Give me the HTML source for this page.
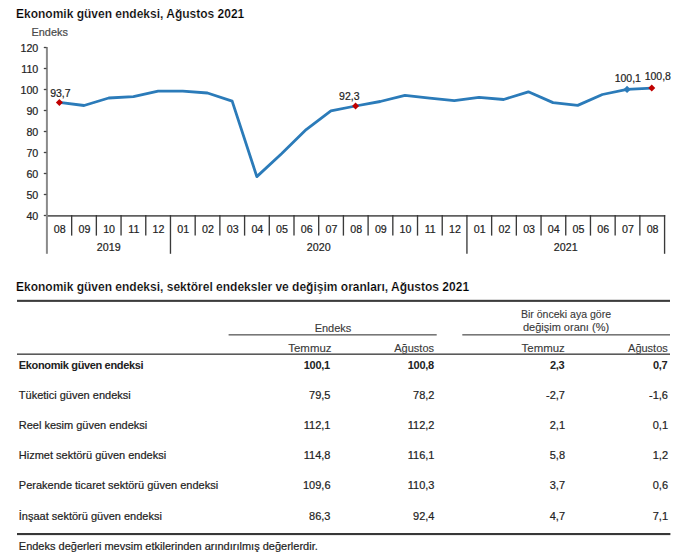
<!DOCTYPE html>
<html><head><meta charset="utf-8"><style>
html,body{margin:0;padding:0;background:#fff}
body{width:698px;height:560px;position:relative;overflow:hidden;font-family:"Liberation Sans",sans-serif}
svg text{font-family:"Liberation Sans",sans-serif;stroke:#222;stroke-width:0.2px}
svg text[font-weight="bold"]{stroke:none}
</style></head><body>
<svg width="698" height="560" viewBox="0 0 698 560" style="position:absolute;left:0;top:0">
<text x="16" y="17.7" font-size="12" font-weight="bold" fill="#000" style="stroke:#fff;stroke-width:0.2px">Ekonomik güven endeksi, Ağustos 2021</text>
<text x="31.5" y="35.6" font-size="10.9" fill="#4a4a4a" style="stroke:#4a4a4a">Endeks</text>
<line x1="46.9" y1="47.0" x2="46.9" y2="216.5" stroke="#8a8a8a" stroke-width="2"/>
<line x1="43.8" y1="47.50" x2="46.5" y2="47.50" stroke="#444" stroke-width="1.3"/>
<text x="38.3" y="51.60" font-size="10.7" fill="#222" text-anchor="end">120</text>
<line x1="43.8" y1="68.50" x2="46.5" y2="68.50" stroke="#444" stroke-width="1.3"/>
<text x="38.3" y="72.60" font-size="10.7" fill="#222" text-anchor="end">110</text>
<line x1="43.8" y1="89.50" x2="46.5" y2="89.50" stroke="#444" stroke-width="1.3"/>
<text x="38.3" y="93.60" font-size="10.7" fill="#222" text-anchor="end">100</text>
<line x1="43.8" y1="110.50" x2="46.5" y2="110.50" stroke="#444" stroke-width="1.3"/>
<text x="38.3" y="114.60" font-size="10.7" fill="#222" text-anchor="end">90</text>
<line x1="43.8" y1="131.50" x2="46.5" y2="131.50" stroke="#444" stroke-width="1.3"/>
<text x="38.3" y="135.60" font-size="10.7" fill="#222" text-anchor="end">80</text>
<line x1="43.8" y1="152.50" x2="46.5" y2="152.50" stroke="#444" stroke-width="1.3"/>
<text x="38.3" y="156.60" font-size="10.7" fill="#222" text-anchor="end">70</text>
<line x1="43.8" y1="173.50" x2="46.5" y2="173.50" stroke="#444" stroke-width="1.3"/>
<text x="38.3" y="177.60" font-size="10.7" fill="#222" text-anchor="end">60</text>
<line x1="43.8" y1="194.50" x2="46.5" y2="194.50" stroke="#444" stroke-width="1.3"/>
<text x="38.3" y="198.60" font-size="10.7" fill="#222" text-anchor="end">50</text>
<line x1="43.8" y1="215.50" x2="46.5" y2="215.50" stroke="#444" stroke-width="1.3"/>
<text x="38.3" y="219.60" font-size="10.7" fill="#222" text-anchor="end">40</text>
<line x1="46" y1="215.8" x2="665.18" y2="215.8" stroke="#606060" stroke-width="1.7"/>
<line x1="46.9" y1="215" x2="46.9" y2="253.8" stroke="#8a8a8a" stroke-width="2"/>
<line x1="71.66" y1="215" x2="71.66" y2="235.6" stroke="#3a3a3a" stroke-width="1.35"/>
<line x1="96.36" y1="215" x2="96.36" y2="235.6" stroke="#3a3a3a" stroke-width="1.35"/>
<line x1="121.06" y1="215" x2="121.06" y2="235.6" stroke="#3a3a3a" stroke-width="1.35"/>
<line x1="145.77" y1="215" x2="145.77" y2="235.6" stroke="#3a3a3a" stroke-width="1.35"/>
<line x1="170.47" y1="215" x2="170.47" y2="253.8" stroke="#3a3a3a" stroke-width="1.35"/>
<line x1="195.18" y1="215" x2="195.18" y2="235.6" stroke="#3a3a3a" stroke-width="1.35"/>
<line x1="219.88" y1="215" x2="219.88" y2="235.6" stroke="#3a3a3a" stroke-width="1.35"/>
<line x1="244.59" y1="215" x2="244.59" y2="235.6" stroke="#3a3a3a" stroke-width="1.35"/>
<line x1="269.29" y1="215" x2="269.29" y2="235.6" stroke="#3a3a3a" stroke-width="1.35"/>
<line x1="294.00" y1="215" x2="294.00" y2="235.6" stroke="#3a3a3a" stroke-width="1.35"/>
<line x1="318.70" y1="215" x2="318.70" y2="235.6" stroke="#3a3a3a" stroke-width="1.35"/>
<line x1="343.41" y1="215" x2="343.41" y2="235.6" stroke="#3a3a3a" stroke-width="1.35"/>
<line x1="368.11" y1="215" x2="368.11" y2="235.6" stroke="#3a3a3a" stroke-width="1.35"/>
<line x1="392.82" y1="215" x2="392.82" y2="235.6" stroke="#3a3a3a" stroke-width="1.35"/>
<line x1="417.52" y1="215" x2="417.52" y2="235.6" stroke="#3a3a3a" stroke-width="1.35"/>
<line x1="442.23" y1="215" x2="442.23" y2="235.6" stroke="#3a3a3a" stroke-width="1.35"/>
<line x1="466.93" y1="215" x2="466.93" y2="253.8" stroke="#3a3a3a" stroke-width="1.35"/>
<line x1="491.64" y1="215" x2="491.64" y2="235.6" stroke="#3a3a3a" stroke-width="1.35"/>
<line x1="516.35" y1="215" x2="516.35" y2="235.6" stroke="#3a3a3a" stroke-width="1.35"/>
<line x1="541.05" y1="215" x2="541.05" y2="235.6" stroke="#3a3a3a" stroke-width="1.35"/>
<line x1="565.75" y1="215" x2="565.75" y2="235.6" stroke="#3a3a3a" stroke-width="1.35"/>
<line x1="590.46" y1="215" x2="590.46" y2="235.6" stroke="#3a3a3a" stroke-width="1.35"/>
<line x1="615.16" y1="215" x2="615.16" y2="235.6" stroke="#3a3a3a" stroke-width="1.35"/>
<line x1="639.87" y1="215" x2="639.87" y2="235.6" stroke="#3a3a3a" stroke-width="1.35"/>
<line x1="664.58" y1="215" x2="664.58" y2="253.8" stroke="#3a3a3a" stroke-width="1.35"/>
<text x="59.70" y="232.6" font-size="10.7" fill="#222" text-anchor="middle">08</text>
<text x="84.41" y="232.6" font-size="10.7" fill="#222" text-anchor="middle">09</text>
<text x="109.11" y="232.6" font-size="10.7" fill="#222" text-anchor="middle">10</text>
<text x="133.82" y="232.6" font-size="10.7" fill="#222" text-anchor="middle">11</text>
<text x="158.52" y="232.6" font-size="10.7" fill="#222" text-anchor="middle">12</text>
<text x="183.23" y="232.6" font-size="10.7" fill="#222" text-anchor="middle">01</text>
<text x="207.93" y="232.6" font-size="10.7" fill="#222" text-anchor="middle">02</text>
<text x="232.64" y="232.6" font-size="10.7" fill="#222" text-anchor="middle">03</text>
<text x="257.34" y="232.6" font-size="10.7" fill="#222" text-anchor="middle">04</text>
<text x="282.05" y="232.6" font-size="10.7" fill="#222" text-anchor="middle">05</text>
<text x="306.75" y="232.6" font-size="10.7" fill="#222" text-anchor="middle">06</text>
<text x="331.46" y="232.6" font-size="10.7" fill="#222" text-anchor="middle">07</text>
<text x="356.16" y="232.6" font-size="10.7" fill="#222" text-anchor="middle">08</text>
<text x="380.87" y="232.6" font-size="10.7" fill="#222" text-anchor="middle">09</text>
<text x="405.57" y="232.6" font-size="10.7" fill="#222" text-anchor="middle">10</text>
<text x="430.28" y="232.6" font-size="10.7" fill="#222" text-anchor="middle">11</text>
<text x="454.98" y="232.6" font-size="10.7" fill="#222" text-anchor="middle">12</text>
<text x="479.69" y="232.6" font-size="10.7" fill="#222" text-anchor="middle">01</text>
<text x="504.39" y="232.6" font-size="10.7" fill="#222" text-anchor="middle">02</text>
<text x="529.10" y="232.6" font-size="10.7" fill="#222" text-anchor="middle">03</text>
<text x="553.80" y="232.6" font-size="10.7" fill="#222" text-anchor="middle">04</text>
<text x="578.51" y="232.6" font-size="10.7" fill="#222" text-anchor="middle">05</text>
<text x="603.21" y="232.6" font-size="10.7" fill="#222" text-anchor="middle">06</text>
<text x="627.92" y="232.6" font-size="10.7" fill="#222" text-anchor="middle">07</text>
<text x="652.62" y="232.6" font-size="10.7" fill="#222" text-anchor="middle">08</text>
<text x="108.71" y="250.5" font-size="10.7" fill="#222" text-anchor="middle">2019</text>
<text x="318.70" y="250.5" font-size="10.7" fill="#222" text-anchor="middle">2020</text>
<text x="565.75" y="250.5" font-size="10.7" fill="#222" text-anchor="middle">2021</text>
<polyline points="59.37,102.40 84.05,105.50 108.74,98.00 133.42,96.60 158.10,91.10 182.78,91.10 207.47,93.00 232.15,101.10 256.83,176.60 281.52,153.70 306.20,129.60 330.88,110.90 355.57,106.00 380.25,101.50 404.93,95.40 429.62,98.10 454.30,100.60 478.98,97.30 503.66,99.50 528.35,91.80 553.03,102.60 577.71,105.40 602.40,94.50 627.08,89.40 651.76,88.10" fill="none" stroke="#2b7bb9" stroke-width="2.8" stroke-linejoin="round" stroke-linecap="round"/>
<path d="M59.37,98.90 L62.87,102.40 L59.37,105.90 L55.87,102.40 Z" fill="#c00000"/>
<path d="M355.57,102.50 L359.07,106.00 L355.57,109.50 L352.07,106.00 Z" fill="#c00000"/>
<path d="M627.08,85.70 L630.78,89.40 L627.08,93.10 L623.38,89.40 Z" fill="#2b7bb9"/>
<path d="M651.76,84.60 L655.26,88.10 L651.76,91.60 L648.26,88.10 Z" fill="#c00000"/>
<text x="50.2" y="97.2" font-size="10.5" fill="#222">93,7</text>
<text x="339.1" y="100.3" font-size="10.5" fill="#222">92,3</text>
<text x="614.7" y="81.8" font-size="10.5" fill="#222">100,1</text>
<text x="644.7" y="80.4" font-size="10.5" fill="#222">100,8</text>
<text x="16" y="290.6" font-size="12" font-weight="bold" fill="#000" style="stroke:#fff;stroke-width:0.2px">Ekonomik güven endeksi, sektörel endeksler ve değişim oranları, Ağustos 2021</text>
<rect x="17" y="299.8" width="653" height="2.1" fill="#3c3c3c"/>
<text x="333" y="332.1" font-size="11" fill="#3a3a3a" style="stroke:#3a3a3a;stroke-width:0.12px" text-anchor="middle">Endeks</text>
<rect x="228.6" y="334" width="208.1" height="1.6" fill="#777"/>
<rect x="462.3" y="334" width="207.7" height="1.6" fill="#777"/>
<text x="566" y="317.7" font-size="11" fill="#3a3a3a" style="stroke:#3a3a3a;stroke-width:0.12px" text-anchor="middle" textLength="90.2" lengthAdjust="spacingAndGlyphs">Bir önceki aya göre</text>
<text x="566" y="330.7" font-size="11" fill="#3a3a3a" style="stroke:#3a3a3a;stroke-width:0.12px" text-anchor="middle">değişim oranı (%)</text>
<text x="331.5" y="351.6" font-size="11" fill="#3a3a3a" style="stroke:#3a3a3a;stroke-width:0.12px" text-anchor="end" textLength="43.2" lengthAdjust="spacingAndGlyphs">Temmuz</text>
<text x="434" y="351.6" font-size="11" fill="#3a3a3a" style="stroke:#3a3a3a;stroke-width:0.12px" text-anchor="end">Ağustos</text>
<text x="564.8" y="351.6" font-size="11" fill="#3a3a3a" style="stroke:#3a3a3a;stroke-width:0.12px" text-anchor="end" textLength="43.2" lengthAdjust="spacingAndGlyphs">Temmuz</text>
<text x="667.8" y="351.6" font-size="11" fill="#3a3a3a" style="stroke:#3a3a3a;stroke-width:0.12px" text-anchor="end">Ağustos</text>
<rect x="17" y="353.4" width="653" height="1.6" fill="#5a5a5a"/>
<text x="18.8" y="368.80" font-size="11" fill="#222" font-weight="bold" letter-spacing="-0.35">Ekonomik güven endeksi</text>
<text x="329.80" y="368.80" font-size="11" fill="#222" text-anchor="end" font-weight="bold" letter-spacing="-0.3">100,1</text>
<text x="433.80" y="368.80" font-size="11" fill="#222" text-anchor="end" font-weight="bold" letter-spacing="-0.3">100,8</text>
<text x="564.30" y="368.80" font-size="11" fill="#222" text-anchor="end" font-weight="bold" letter-spacing="-0.3">2,3</text>
<text x="667.30" y="368.80" font-size="11" fill="#222" text-anchor="end" font-weight="bold" letter-spacing="-0.3">0,7</text>
<text x="18.8" y="398.94" font-size="11" fill="#222">Tüketici güven endeksi</text>
<text x="330.5" y="398.94" font-size="11" fill="#222" text-anchor="end">79,5</text>
<text x="434.5" y="398.94" font-size="11" fill="#222" text-anchor="end">78,2</text>
<text x="565" y="398.94" font-size="11" fill="#222" text-anchor="end">-2,7</text>
<text x="668" y="398.94" font-size="11" fill="#222" text-anchor="end">-1,6</text>
<text x="18.8" y="429.08" font-size="11" fill="#222">Reel kesim güven endeksi</text>
<text x="330.5" y="429.08" font-size="11" fill="#222" text-anchor="end">112,1</text>
<text x="434.5" y="429.08" font-size="11" fill="#222" text-anchor="end">112,2</text>
<text x="565" y="429.08" font-size="11" fill="#222" text-anchor="end">2,1</text>
<text x="668" y="429.08" font-size="11" fill="#222" text-anchor="end">0,1</text>
<text x="18.8" y="459.22" font-size="11" fill="#222">Hizmet sektörü güven endeksi</text>
<text x="330.5" y="459.22" font-size="11" fill="#222" text-anchor="end">114,8</text>
<text x="434.5" y="459.22" font-size="11" fill="#222" text-anchor="end">116,1</text>
<text x="565" y="459.22" font-size="11" fill="#222" text-anchor="end">5,8</text>
<text x="668" y="459.22" font-size="11" fill="#222" text-anchor="end">1,2</text>
<text x="18.8" y="489.36" font-size="11" fill="#222">Perakende ticaret sektörü güven endeksi</text>
<text x="330.5" y="489.36" font-size="11" fill="#222" text-anchor="end">109,6</text>
<text x="434.5" y="489.36" font-size="11" fill="#222" text-anchor="end">110,3</text>
<text x="565" y="489.36" font-size="11" fill="#222" text-anchor="end">3,7</text>
<text x="668" y="489.36" font-size="11" fill="#222" text-anchor="end">0,6</text>
<text x="18.8" y="519.50" font-size="11" fill="#222">İnşaat sektörü güven endeksi</text>
<text x="330.5" y="519.50" font-size="11" fill="#222" text-anchor="end">86,3</text>
<text x="434.5" y="519.50" font-size="11" fill="#222" text-anchor="end">92,4</text>
<text x="565" y="519.50" font-size="11" fill="#222" text-anchor="end">4,7</text>
<text x="668" y="519.50" font-size="11" fill="#222" text-anchor="end">7,1</text>
<rect x="17" y="533" width="653.4" height="2.1" fill="#383838"/>
<text x="18.8" y="550" font-size="11" fill="#222">Endeks değerleri mevsim etkilerinden arındırılmış değerlerdir.</text>
</svg>
</body></html>
